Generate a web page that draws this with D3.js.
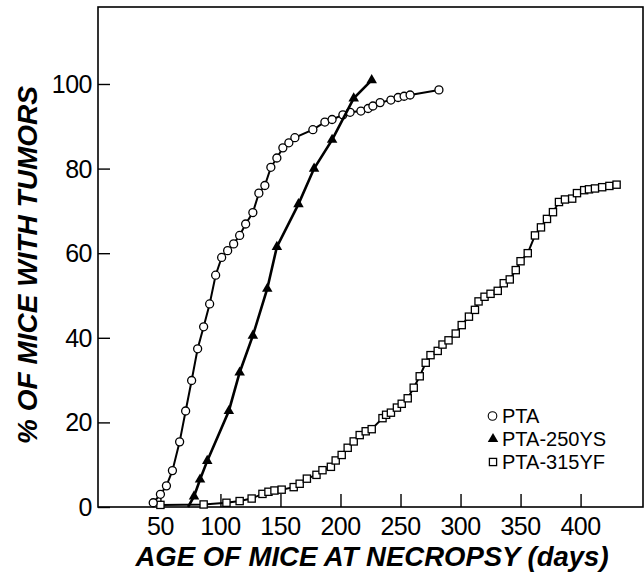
<!DOCTYPE html>
<html>
<head>
<meta charset="utf-8">
<script src="https://cdn.jsdelivr.net/npm/d3@7"></script>
<style>
  body { margin: 0; background: #fff; }
  svg { display: block; font-family: "Liberation Sans", Arial, Helvetica, sans-serif; }
</style>
</head>
<body>
<div id="chart"></div>
<script>
// Dados: [idade (dias), % de camundongos com tumores]
const ptaDays = [44, 50, 55, 60, 66, 71, 76, 81, 86, 91, 96, 101, 106, 111, 116, 121, 127, 132, 137, 142, 147, 152, 157, 162, 177, 187, 193, 202, 208, 217, 223, 227, 233, 242, 248, 253, 258, 282];
const ptaPct = [1.0, 3.0, 5.0, 8.6, 15.4, 22.7, 29.9, 37.4, 42.6, 48.0, 54.8, 59.0, 60.6, 62.2, 64.2, 66.9, 69.6, 74.2, 76.0, 80.3, 82.5, 84.9, 86.1, 87.3, 89.2, 91.0, 91.6, 92.7, 93.3, 93.6, 94.2, 94.8, 95.6, 96.2, 96.8, 97.1, 97.4, 98.6];

const ys250Days = [73, 78, 83, 89, 107, 116, 127, 139, 147, 165, 178, 193, 211, 226];
const ys250Pct = [0, 2.5, 6.5, 10.9, 22.7, 31.8, 40.5, 51.6, 61.5, 71.6, 80.0, 86.8, 96.6, 100.9];

const yf315Days = [50, 86, 105, 116, 126, 135, 140, 145, 151, 161, 166, 172, 180, 185, 192, 196, 201, 206, 211, 216, 221, 226, 235, 238, 242, 247, 251, 256, 261, 266, 271, 275, 281, 285, 290, 296, 301, 307, 312, 315, 320, 325, 331, 336, 341, 346, 350, 356, 362, 367, 372, 377, 382, 387, 393, 397, 403, 407, 412, 418, 424, 430];
const yf315Pct = [0.5, 0.6, 1.0, 1.4, 2.0, 3.1, 3.6, 3.9, 4.1, 4.7, 5.5, 6.7, 7.6, 8.7, 9.5, 11.0, 12.3, 14.0, 15.5, 17.0, 17.9, 18.4, 21.0, 21.8, 22.3, 23.5, 24.4, 25.7, 28.2, 30.9, 34.1, 35.9, 36.9, 38.4, 39.4, 41.0, 43.0, 45.0, 46.6, 48.6, 49.7, 50.4, 51.1, 52.9, 53.8, 56.0, 58.1, 60.0, 64.2, 66.1, 68.1, 69.7, 72.1, 72.7, 72.9, 74.2, 74.9, 75.1, 75.3, 75.6, 75.9, 76.2];

const xTicks = [50, 100, 150, 200, 250, 300, 350, 400];
const yTicks = [0, 20, 40, 60, 80, 100];
const seriesNames = ["PTA", "PTA-250YS", "PTA-315YF"];

const width = 644, height = 580;
const margin = { top: 7, right: 1, bottom: 73, left: 98 };

const svg = d3.select("#chart").append("svg")
  .attr("width", width)
  .attr("height", height);

// Escalas
const x = d3.scaleLinear().domain([-2, 452]).range([margin.left, width - margin.right]);
const y = d3.scaleLinear().domain([0, 118.2]).range([height - margin.bottom, margin.top]);

// Moldura do gráfico
svg.append("rect")
  .attr("x", x.range()[0])
  .attr("y", y.range()[1])
  .attr("width", x.range()[1] - x.range()[0])
  .attr("height", y.range()[0] - y.range()[1])
  .attr("fill", "none")
  .attr("stroke", "#000")
  .attr("stroke-width", 1.6);

// Eixo Y (marcas para dentro)
const yAxis = svg.append("g")
  .attr("transform", `translate(${margin.left},0)`)
  .call(d3.axisRight(y).tickValues(yTicks).tickSize(12).tickFormat(""));
yAxis.select(".domain").remove();
yAxis.selectAll("line").attr("stroke-width", 1.4);

svg.selectAll(".ylab")
  .data(yTicks)
  .enter().append("text")
  .attr("class", "ylab")
  .attr("x", margin.left - 6)
  .attr("y", d => y(d) + 9)
  .attr("text-anchor", "end")
  .attr("font-size", "25px")
  .attr("letter-spacing", "-0.5px")
  .text(d => d);

// Eixo X (marcas para dentro)
const xAxis = svg.append("g")
  .attr("transform", `translate(0,${y(0)})`)
  .call(d3.axisTop(x).tickValues(xTicks).tickSize(13).tickFormat(""));
xAxis.select(".domain").remove();
xAxis.selectAll("line").attr("stroke-width", 1.4);

svg.selectAll(".xlab")
  .data(xTicks)
  .enter().append("text")
  .attr("class", "xlab")
  .attr("x", d => x(d))
  .attr("y", y(0) + 28)
  .attr("text-anchor", "middle")
  .attr("font-size", "25px")
  .attr("letter-spacing", "-0.5px")
  .text(d => d);

// Títulos dos eixos
svg.append("text")
  .attr("x", 372)
  .attr("y", 566)
  .attr("text-anchor", "middle")
  .attr("font-size", "27.5px")
  .attr("font-weight", "bold")
  .attr("font-style", "italic")
  .text("AGE OF MICE AT NECROPSY (days)");

svg.append("text")
  .attr("transform", "translate(37,265) rotate(-90)")
  .attr("text-anchor", "middle")
  .attr("font-size", "28px")
  .attr("font-weight", "bold")
  .attr("font-style", "italic")
  .text("% OF MICE WITH TUMORS");

const line = d3.line().x(d => x(d[0])).y(d => y(d[1]));

function drawSeries(days, pct, lineWidth, marker) {
  const pts = days.map((d, i) => [d, pct[i]]);
  svg.append("path")
    .datum(pts)
    .attr("d", line)
    .attr("fill", "none")
    .attr("stroke", "#000")
    .attr("stroke-width", lineWidth);
  const g = svg.append("g");
  // o ponto inicial em 0% não tem marcador visível no original
  pts.filter(p => p[1] > 0).forEach(p => marker(g, x(p[0]), y(p[1])));
}

const circleMark = (g, cx, cy) => g.append("circle")
  .attr("cx", cx).attr("cy", cy).attr("r", 4)
  .attr("fill", "#fff").attr("stroke", "#000").attr("stroke-width", 1.3);

const squareMark = (g, cx, cy) => g.append("rect")
  .attr("x", cx - 3.6).attr("y", cy - 3.6).attr("width", 7.2).attr("height", 7.2)
  .attr("fill", "#fff").attr("stroke", "#000").attr("stroke-width", 1.3);

const triSymbol = d3.symbol().type(d3.symbolTriangle).size(48);
const triMark = (g, cx, cy) => g.append("path")
  .attr("d", triSymbol)
  .attr("transform", `translate(${cx},${cy})`)
  .attr("fill", "#000");

drawSeries(yf315Days, yf315Pct, 2, squareMark);
drawSeries(ptaDays, ptaPct, 2, circleMark);
drawSeries(ys250Days, ys250Pct, 2.6, triMark);

// Legenda
const legendMarks = [circleMark, triMark, squareMark];
seriesNames.forEach((name, i) => {
  const ly = 416 + i * 23;
  const g = svg.append("g");
  if (i === 0) {
    g.append("circle").attr("cx", 492.5).attr("cy", ly).attr("r", 4.3)
      .attr("fill", "#fff").attr("stroke", "#000").attr("stroke-width", 1.1);
  } else {
    legendMarks[i](g, 493, ly);
  }
  svg.append("text")
    .attr("x", 502)
    .attr("y", ly + 7)
    .attr("font-size", "20px")
    .text(name);
});
</script>
</body>
</html>
